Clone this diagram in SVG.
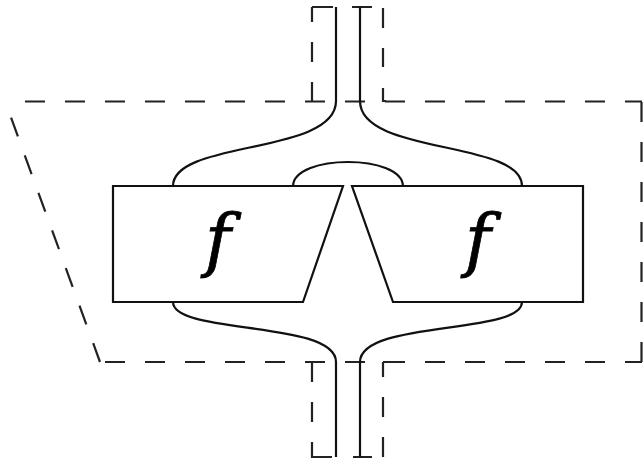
<svg xmlns="http://www.w3.org/2000/svg" width="643" height="461" viewBox="0 0 643 461">
<style>
  .box { fill: #fff; stroke: #111; stroke-width: 2.2; stroke-linejoin: miter; }
  .wire { fill: none; stroke: #111; stroke-width: 2.2; }
  .dash { fill: none; stroke: #222; stroke-width: 2.2; stroke-dasharray: 20 20; }
  .seg { fill: none; stroke: #222; stroke-width: 2.2; }
  .lbl { font-family: "DejaVu Serif", "Liberation Serif", serif; font-style: italic; font-size: 70px; fill: #000; stroke: #000; stroke-width: 0.8; text-anchor: middle; }
</style>
<rect width="643" height="461" fill="#fff"/>
<g id="frame">
  <path class="dash" d="M5,101.5 H642" stroke-dashoffset="20"/>
  <path class="dash" d="M641.5,102 V362"/>
  <path class="dash" d="M100,362 H642" stroke-dashoffset="35"/>
  <path class="dash" d="M100,362 L5,101"/>
  <path class="seg" d="M312,7 H333 M312,7 V22 M312,42 V62 M312,82 V101"/>
  <path class="seg" d="M352,7 H372 M383,8 V28 M383,48 V67 M383,88 V101 H386"/>
  <path class="seg" d="M312,362 V382 M312,402 V422 M312,442 V457 H332"/>
  <path class="seg" d="M383,362 V377 M383,362 H386 M383,397 V417 M383,437 V457 M353,457 H372"/>
</g>
<g id="connectors">
  <path class="wire" d="M336,7 V101 C336,155 173,140 173,186"/>
  <path class="wire" d="M360,7 V101 C360,155 522,140 522,186"/>
  <path class="wire" d="M293,186 C294,154 402,154 403,186"/>
  <path class="wire" d="M173,302 C173,335 336,320 336,362 V457"/>
  <path class="wire" d="M522,302 C522,335 360,320 360,362 V457"/>
</g>
<g id="f-left">
  <path class="box" d="M113,186 H343 L303,302 H113 Z"/>
  <text class="lbl" x="218" y="264">f</text>
</g>
<g id="f-right">
  <path class="box" d="M352,186 H583 V302 H393 Z"/>
  <text class="lbl" x="478" y="264">f</text>
</g>
</svg>
